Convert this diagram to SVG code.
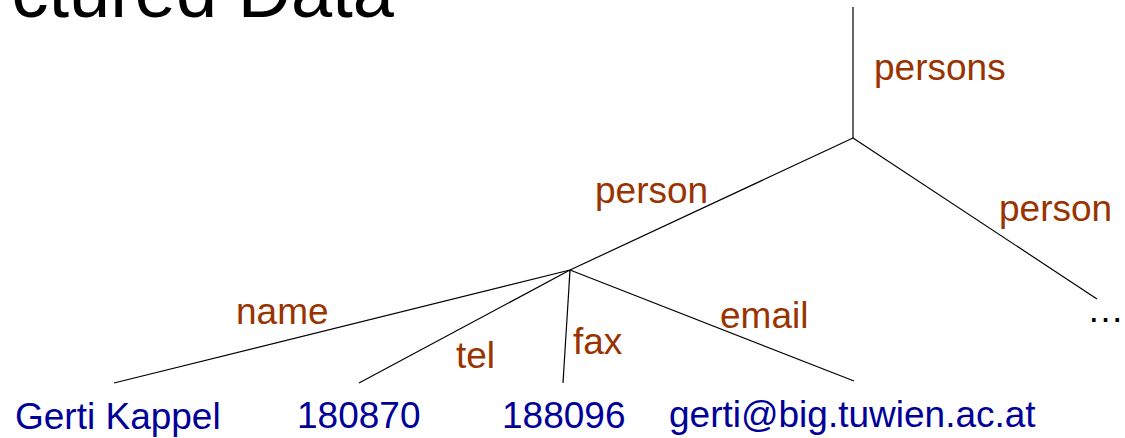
<svg xmlns="http://www.w3.org/2000/svg" width="1125" height="438" viewBox="0 0 1125 438">
  <style>
    .edge { stroke: #000; stroke-width: 1.2; fill: none; }
    .lbl { font-family: "Liberation Sans", Arial, sans-serif; font-size: 37px; fill: #993300; }
    .val { font-family: "Liberation Sans", Arial, sans-serif; font-size: 37px; fill: #000099; }
    .title { font-family: "Liberation Sans", Arial, sans-serif; font-size: 74px; fill: #000; }
  </style>
  <rect width="1125" height="438" fill="#fff"/>
  <text class="title" x="394" y="17" text-anchor="end">ctured Data</text>

  <g id="connectors">
    <line class="edge" x1="853" y1="7" x2="853" y2="138"/>
    <line class="edge" x1="853" y1="138" x2="1097" y2="299"/>
    <line class="edge" x1="853" y1="138" x2="570" y2="270"/>
    <line class="edge" x1="570" y1="270" x2="114" y2="383"/>
    <line class="edge" x1="570" y1="270" x2="359" y2="383"/>
    <line class="edge" x1="570" y1="270" x2="563" y2="383"/>
    <line class="edge" x1="570" y1="270" x2="854" y2="381"/>
  </g>

  <g id="edge-labels">
    <text class="lbl" x="874" y="80">persons</text>
    <text class="lbl" x="595" y="203">person</text>
    <text class="lbl" x="999" y="221">person</text>
    <text class="lbl" x="236" y="324">name</text>
    <text class="lbl" x="456" y="368">tel</text>
    <text class="lbl" x="573" y="354">fax</text>
    <text class="lbl" x="720" y="328">email</text>
  </g>

  <g id="node-more"><text x="1087" y="322" style="font-family:'Liberation Sans',Arial,sans-serif;font-size:37px;fill:#000">…</text></g>
  <g id="node-name"><text class="val" x="15" y="429">Gerti Kappel</text></g>
  <g id="node-tel"><text class="val" x="297" y="428">180870</text></g>
  <g id="node-fax"><text class="val" x="502" y="428">188096</text></g>
  <g id="node-email"><text class="val" x="669" y="427">gerti@big.tuwien.ac.at</text></g>
</svg>
